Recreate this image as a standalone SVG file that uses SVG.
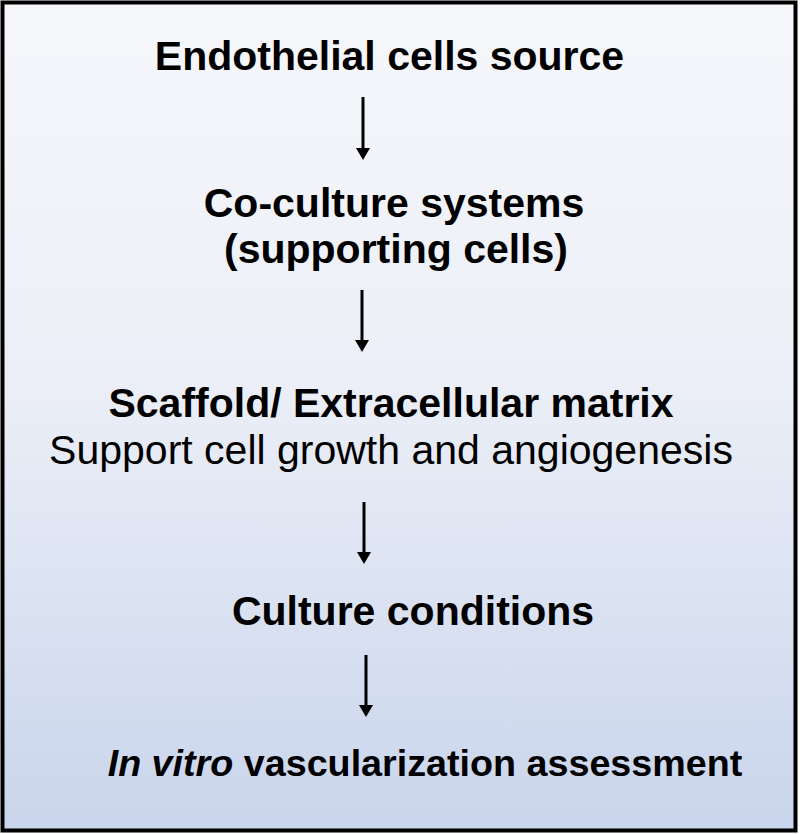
<svg xmlns="http://www.w3.org/2000/svg" width="800" height="834" viewBox="0 0 800 834">
<defs>
<linearGradient id="bg" x1="0" y1="0" x2="0" y2="1">
<stop offset="0" stop-color="#f6f7fb"/>
<stop offset="0.45" stop-color="#eceff7"/>
<stop offset="1" stop-color="#c9d5ec"/>
</linearGradient>
<style>
text{font-family:"Liberation Sans",Arial,sans-serif;font-size:41px;fill:#000;text-anchor:middle}
.b{font-weight:bold}
.a{stroke:#000;stroke-width:3;fill:none}
</style>
</defs>
<rect x="2.5" y="2.5" width="793" height="828" fill="url(#bg)" stroke="#000" stroke-width="4"/>
<g id="n1"><text class="b" x="389.5" y="70">Endothelial cells source</text></g>
<g id="n2"><text class="b" x="394" y="217">Co-culture systems</text><text class="b" x="396" y="263">(supporting cells)</text></g>
<g id="n3"><text class="b" x="391" y="417">Scaffold/ Extracellular matrix</text><text x="391" y="464">Support cell growth and angiogenesis</text></g>
<g id="n4"><text class="b" x="413" y="625">Culture conditions</text></g>
<g id="n5"><text class="b" x="425" y="776" style="font-size:37.7px"><tspan font-style="italic">In vitro</tspan> vascularization assessment</text></g>
<g id="connectors">
<line class="a" x1="363" y1="97" x2="363" y2="152"/><path d="M356,148 L370,148 L363,160 Z"/>
<line class="a" x1="362" y1="290" x2="362" y2="344"/><path d="M355,340 L369,340 L362,352 Z"/>
<line class="a" x1="364" y1="502" x2="364" y2="556"/><path d="M357,552 L371,552 L364,564 Z"/>
<line class="a" x1="366" y1="655" x2="366" y2="709"/><path d="M359,705 L373,705 L366,717 Z"/>
</g>
</svg>
